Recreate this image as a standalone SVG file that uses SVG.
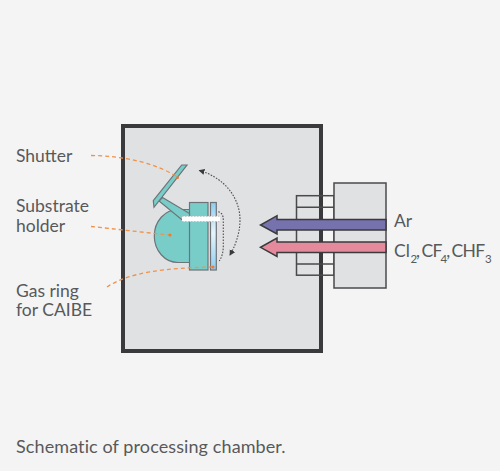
<svg xmlns="http://www.w3.org/2000/svg" width="500" height="471" viewBox="0 0 500 471">
<defs>
<marker id="ah" markerWidth="8" markerHeight="8" refX="5" refY="3" orient="auto-start-reverse" markerUnits="userSpaceOnUse"><path d="M0,0 L6,3 L0,6 Z" fill="#3a3a3c"/></marker>
<linearGradient id="pl" x1="0" y1="0" x2="0" y2="1"><stop offset="0" stop-color="#8dcdf0"/><stop offset="0.45" stop-color="#e8f4fb"/><stop offset="1" stop-color="#8dcdf0"/></linearGradient>
</defs>
<style>
text{font-family:"Lato","Open Sans","Liberation Sans",sans-serif;font-size:17.5px;fill:#58595b}
.cap{font-size:18px;letter-spacing:0.1px}
.sub{font-size:11.5px}
.nar{letter-spacing:-0.6px}
.box{fill:#e0e1e3;stroke:#4a4a4c;stroke-width:1.5}
.teal{fill:#79cdc9;stroke:#6d7377;stroke-width:1.2}
.lead{fill:none;stroke:#f0924a;stroke-width:1.3;stroke-dasharray:4 3}
.dot{fill:#f0792c}
.dots{fill:none;stroke:#4e4e50;stroke-width:1.1;stroke-dasharray:1.6 1.4}
</style>
<rect width="500" height="471" fill="#f4f4f4"/>
<g id="chamber"><rect x="123" y="126" width="198" height="225" fill="#e0e1e3" stroke="#3a3a3c" stroke-width="4"/></g>
<g id="gas-port">
<rect x="296.500" y="195.700" width="37.500" height="79.500" fill="none" stroke="#4a4a4c" stroke-width="1.500"/>
<path d="M296.500 207.300H334M296.500 264H334" fill="none" stroke="#4a4a4c" stroke-width="1.500"/>
<rect class="box" x="334" y="183" width="52" height="105"/>
</g>
<g id="substrate-holder">
<path class="teal" d="M190 209.500H178A23.700 26.500 0 0 0 178 262.500H190Z"/>
<rect class="teal" x="189.500" y="202.500" width="18.500" height="67.500"/>
</g>
<g id="shutter">
<path class="teal" d="M162.500 197.500L189.500 213.500V219.500H181.500L159 201Z"/>
<path class="teal" d="M153.300 200.700L181.700 165H187L154 207.300Z"/>
</g>
<g id="substrate"><rect x="210.500" y="202.500" width="5.800" height="67.500" fill="url(#pl)" stroke="#6d7377" stroke-width="1.200"/></g>
<g id="screw">
<rect x="182" y="216.200" width="38" height="5.400" fill="#fff"/>
<path d="M182 216.200H220M182 221.600H220" stroke="#b5b5b7" stroke-width="0.900" stroke-dasharray="1.500 1.500" fill="none"/>
</g>
<g id="connectors">
<path class="dots" d="M218.300 211.700C222 213 223.300 215 223.300 221V246C223.300 252 222 257 219.300 261"/>
<path class="dots" d="M199.500 170.500C225 178 240 198 240 220C240 235 234 248 230 255" marker-start="url(#ah)" marker-end="url(#ah)"/>
<path class="lead" d="M91 155.500C125 156 155 163 177.500 177"/>
<path class="lead" d="M91 226.500C115 229 140 232 170 235"/>
<path class="lead" d="M107 287C130 272 165 268 213 267"/>
<circle class="dot" cx="177.500" cy="177.500" r="1.500"/>
<circle class="dot" cx="170" cy="235" r="1.500"/>
<circle class="dot" cx="213" cy="267" r="1.500"/>
</g>
<g id="ar-arrow"><path d="M386 219.500H277V215.700L260.500 225L277 234V230H386Z" fill="#7672ae" stroke="#3a3a3c" stroke-width="1.500"/></g>
<g id="etch-arrow"><path d="M386 242H277V238L260.500 247.300L277 256.500V252.500H386Z" fill="#e58a9d" stroke="#3a3a3c" stroke-width="1.500"/></g>
<g id="labels">
<text x="16" y="161.500">Shutter</text>
<text x="16" y="212">Substrate</text>
<text x="16" y="231.700">holder</text>
<text x="16" y="296.700">Gas ring</text>
<text x="16" y="316">for CAIBE</text>
<text x="394" y="227.300">Ar</text>
<text x="394" y="256.700">Cl<tspan class="sub" x="410.500" dy="5.800">2</tspan><tspan x="416" dy="-5.800">,</tspan><tspan class="nar" x="421.500">CF</tspan><tspan class="sub" x="440.500" dy="5.800">4</tspan><tspan x="446.300" dy="-5.800">,</tspan><tspan class="nar" x="451.500">CHF</tspan><tspan class="sub" x="485" dy="5.800">3</tspan></text>
<text class="cap" x="16" y="453">Schematic of processing chamber.</text>
</g>
</svg>
